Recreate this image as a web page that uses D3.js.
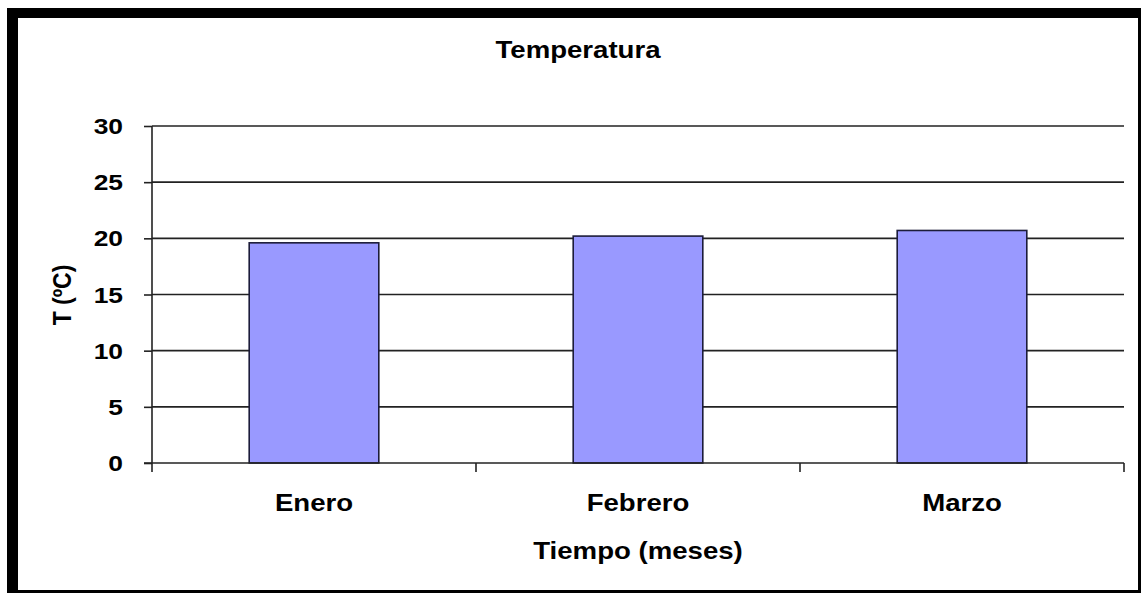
<!DOCTYPE html>
<html><head><meta charset="utf-8">
<script src="https://cdn.jsdelivr.net/npm/d3@7"></script>
<style>html,body{margin:0;padding:0;background:#fff;}svg{display:block;}text{font-family:"Liberation Sans",Arial,sans-serif;font-weight:bold;fill:#000;}</style>
</head><body>
<svg id="c" width="1144" height="595"></svg>
<script>
const categories = ["Enero", "Febrero", "Marzo"];
const temperatures = [19.6, 20.2, 20.7];
const yTicks = [0, 5, 10, 15, 20, 25, 30];
const chartTitle = "Temperatura";
const xTitle = "Tiempo (meses)";
const yTitle = "T (ºC)";

const svg = d3.select("#c");
const SX = 1.2; // horizontal stretch of text as in the reference

// frame
svg.append("rect").attr("x",7).attr("y",8).attr("width",1134).attr("height",585).attr("fill","#000");
svg.append("rect").attr("x",18).attr("y",18).attr("width",1120).attr("height",572).attr("fill","#fff");

const x = d3.scaleBand().domain(categories).range([152,1124]).paddingInner(0.6).paddingOuter(0.3);
const y = d3.scaleLinear().domain([0,30]).range([463,126]);

function stext(g, tx, ty, str, size, anchor){
  return g.append("text").attr("transform",`translate(${tx},${ty}) scale(${SX},1)`)
    .attr("text-anchor",anchor||"middle").attr("font-size",size).text(str);
}

// gridlines
svg.append("g").selectAll("line").data(yTicks.filter(d=>d>0)).join("line")
  .attr("x1",152).attr("x2",1124).attr("y1",d=>y(d)).attr("y2",d=>y(d))
  .attr("stroke","#222").attr("stroke-width",1.6);

// bars
svg.append("g").selectAll("rect").data(temperatures).join("rect")
  .attr("x",(d,i)=>x(categories[i])).attr("width",x.bandwidth())
  .attr("y",d=>y(d)).attr("height",d=>y(0)-y(d))
  .attr("fill","#9999ff").attr("stroke","#1c1c3a").attr("stroke-width",1.6);

// y axis
const yAxis = svg.append("g").attr("transform","translate(152,0)")
  .call(d3.axisLeft(y).tickValues(yTicks).tickSize(8).tickFormat(""));
yAxis.select(".domain").remove();
yAxis.selectAll("line").attr("stroke","#222").attr("stroke-width",1.6);
svg.append("line").attr("x1",152).attr("x2",152).attr("y1",y(30)).attr("y2",472).attr("stroke","#222").attr("stroke-width",1.6);
// x axis base
svg.append("line").attr("x1",144).attr("x2",1124).attr("y1",y(0)).attr("y2",y(0)).attr("stroke","#222").attr("stroke-width",1.6);
// x category boundary ticks
const step = x.step();
const bounds = categories.map((c,i)=>x(c)+x.bandwidth()/2+step/2);
svg.append("g").selectAll("line").data(bounds).join("line")
  .attr("x1",d=>d).attr("x2",d=>d).attr("y1",y(0)).attr("y2",472)
  .attr("stroke","#222").attr("stroke-width",1.6);

// y tick labels
const yl = svg.append("g");
yTicks.forEach(t=>stext(yl,123,y(t)+8,String(t),22,"end"));

// category labels
const xl = svg.append("g");
categories.forEach(c=>stext(xl,x(c)+x.bandwidth()/2,511,c,23,"middle"));

// titles
stext(svg,578,58,chartTitle,23,"middle");
stext(svg,638,559,xTitle,23,"middle");
svg.append("text").attr("transform","translate(71,295) scale(1.15,1) rotate(-90)")
  .attr("text-anchor","middle").attr("font-size",23).text(yTitle);
</script>
</body></html>
